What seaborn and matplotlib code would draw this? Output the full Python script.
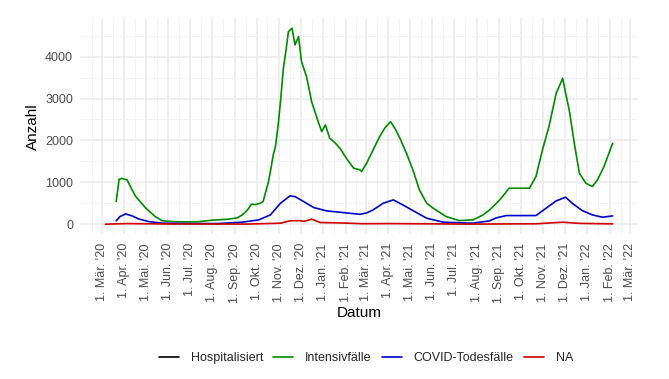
import matplotlib
import matplotlib.pyplot as plt
import matplotlib.dates as mdates
import pandas as pd
import seaborn as sns
from matplotlib.lines import Line2D

matplotlib.use("Agg")

# ── Data ──────────────────────────────────────────────────────────────────────

intensiv_dates = [
    "2020-03-21", "2020-03-25", "2020-03-29", "2020-04-05", "2020-04-11", "2020-04-17",
    "2020-05-01", "2020-05-14", "2020-05-24", "2020-06-10", "2020-06-25", "2020-07-12",
    "2020-07-31", "2020-08-23", "2020-09-04", "2020-09-11", "2020-09-18", "2020-09-24",
    "2020-09-30", "2020-10-06", "2020-10-10", "2020-10-15", "2020-10-17", "2020-10-21",
    "2020-10-24", "2020-10-27", "2020-10-31", "2020-11-03", "2020-11-07", "2020-11-11",
    "2020-11-14", "2020-11-19", "2020-11-23", "2020-11-28", "2020-12-02", "2020-12-09",
    "2020-12-16", "2020-12-25", "2020-12-30", "2021-01-04", "2021-01-10", "2021-01-17",
    "2021-01-24", "2021-02-02", "2021-02-12", "2021-02-21", "2021-02-23", "2021-03-02",
    "2021-03-11", "2021-03-20", "2021-03-27", "2021-04-04", "2021-04-10", "2021-04-17",
    "2021-04-26", "2021-05-05", "2021-05-14", "2021-05-24", "2021-06-02", "2021-06-20",
    "2021-07-08", "2021-07-27", "2021-08-10", "2021-08-19", "2021-09-02", "2021-09-15",
    "2021-09-29", "2021-10-13", "2021-10-22", "2021-10-31", "2021-11-09", "2021-11-19",
    "2021-11-23", "2021-11-28", "2021-12-02", "2021-12-07", "2021-12-14", "2021-12-21",
    "2021-12-30", "2022-01-08", "2022-01-15", "2022-01-24", "2022-02-05",
]
intensiv_values = [
    540, 1074, 1090, 1057, 850, 660,
    380, 180, 80, 60, 55, 58,
    95, 120, 150, 220, 330, 477,
    470, 500, 540, 860, 985, 1350,
    1654, 1850, 2400, 2926, 3723, 4200,
    4597, 4678, 4279, 4477, 3880, 3523,
    2926, 2449, 2210, 2370, 2053, 1950,
    1814, 1575, 1337, 1296, 1255, 1456,
    1773, 2091, 2291, 2449, 2291, 2053,
    1694, 1296, 819, 501, 382, 181,
    86, 103, 222, 341, 580, 859,
    859, 859, 1136, 1773, 2331, 3126,
    3284, 3484, 3126, 2728, 1932, 1217,
    978, 898, 1057, 1375, 1932,
]

tote_dates = [
    "2020-03-21", "2020-03-26", "2020-04-03", "2020-04-12", "2020-04-21", "2020-05-05",
    "2020-05-24", "2020-06-28", "2020-08-08", "2020-09-11", "2020-10-04", "2020-10-20",
    "2020-11-03", "2020-11-16", "2020-11-23", "2020-12-05", "2020-12-19", "2021-01-06",
    "2021-01-24", "2021-02-21", "2021-03-02", "2021-03-11", "2021-03-25", "2021-04-08",
    "2021-04-21", "2021-05-05", "2021-05-24", "2021-06-16", "2021-07-27", "2021-08-19",
    "2021-08-28", "2021-09-11", "2021-09-29", "2021-10-22", "2021-11-05", "2021-11-19",
    "2021-12-02", "2021-12-11", "2021-12-25", "2022-01-08", "2022-01-22", "2022-02-05",
]
tote_values = [
    80, 180, 245, 198, 126, 62,
    24, 15, 15, 48, 103, 222,
    501, 675, 659, 540, 397, 317,
    286, 235, 270, 341, 501, 580,
    461, 325, 143, 48, 24, 80,
    150, 206, 206, 206, 382, 556,
    644, 501, 325, 222, 167, 198,
]

na_dates = [
    "2020-03-06", "2020-04-05", "2020-05-30", "2020-09-17", "2020-11-03", "2020-11-16",
    "2020-11-28", "2020-12-06", "2020-12-16", "2020-12-28", "2021-01-25", "2021-02-25",
    "2021-04-05", "2021-07-20", "2021-10-22", "2021-11-28", "2021-12-21", "2022-02-05",
]
na_values = [
    0, 15, 5, 3, 24, 80,
    86, 70, 120, 40, 30, 12,
    15, 2, 10, 48, 20, 8,
]

series_names = ["Hospitalisiert", "Intensivfälle", "COVID-Todesfälle", "NA"]
series_colors = ["#000000", "#008B00", "#0000CD", "#CD0000"]

x_tick_labels = [
    "1. Mär. '20", "1. Apr. '20", "1. Mai. '20", "1. Jun. '20", "1. Jul. '20",
    "1. Aug. '20", "1. Sep. '20", "1. Okt. '20", "1. Nov. '20", "1. Dez. '20",
    "1. Jan. '21", "1. Feb. '21", "1. Mär. '21", "1. Apr. '21", "1. Mai. '21",
    "1. Jun. '21", "1. Jul. '21", "1. Aug. '21", "1. Sep. '21", "1. Okt. '21",
    "1. Nov. '21", "1. Dez. '21", "1. Jan. '22", "1. Feb. '22", "1. Mär. '22",
]
y_ticks = [0, 1000, 2000, 3000, 4000]

# ── Build long table ──────────────────────────────────────────────────────────

frames = [
    pd.DataFrame({"Datum": pd.to_datetime(intensiv_dates), "Anzahl": intensiv_values,
                  "Serie": "Intensivfälle"}),
    pd.DataFrame({"Datum": pd.to_datetime(tote_dates), "Anzahl": tote_values,
                  "Serie": "COVID-Todesfälle"}),
    pd.DataFrame({"Datum": pd.to_datetime(na_dates), "Anzahl": na_values, "Serie": "NA"}),
]
df = pd.concat(frames, ignore_index=True)

# ── Plot ──────────────────────────────────────────────────────────────────────

sns.set_theme(style="white")
plt.rcParams["font.family"] = ["Liberation Sans", "DejaVu Sans"]

fig = plt.figure(figsize=(6.69, 3.79), dpi=100)
ax = fig.add_axes([80 / 669, 1 - 234 / 379, 558 / 669, (234 - 18.4) / 379])

palette = dict(zip(series_names, series_colors))
sns.lineplot(
    data=df, x="Datum", y="Anzahl", hue="Serie", palette=palette,
    hue_order=series_names[1:], estimator=None, linewidth=1.2, legend=False, ax=ax,
)

# ggplot-like 5% expansion
xmin, xmax = df["Datum"].min(), df["Datum"].max()
xpad = (xmax - xmin) * 0.05
ax.set_xlim(xmin - xpad, xmax + xpad)
ymax = df["Anzahl"].max()
ax.set_ylim(-ymax * 0.05, ymax * 1.05)

month_ticks = pd.date_range("2020-03-01", periods=len(x_tick_labels), freq="MS")
ax.set_xticks(month_ticks)
ax.set_xticklabels(x_tick_labels, rotation=90, ha="center", va="top",
                   fontsize=9, color="#4D4D4D")
ax.xaxis.set_minor_locator(mdates.MonthLocator(bymonthday=16))
ax.set_yticks(y_ticks)
ax.set_yticklabels([str(v) for v in y_ticks], fontsize=9, color="#4D4D4D")
ax.set_yticks([v + 500 for v in y_ticks], minor=True)

ax.grid(which="major", color="#EBEBEB", linewidth=1.1)
ax.grid(which="minor", color="#F2F2F2", linewidth=0.6)
ax.set_axisbelow(True)
for side in ax.spines.values():
    side.set_visible(False)
ax.tick_params(axis="x", which="both", length=0, pad=6.5)
ax.tick_params(axis="y", which="both", length=0, pad=5)

ax.set_xlabel("Datum", fontsize=11, color="black", va="top")
ax.xaxis.set_label_coords(0.5, (234 - 306) / 215.6)
ax.set_ylabel("Anzahl", fontsize=11, color="black", labelpad=4)

handles = [Line2D([], [], color=c, linewidth=1.2) for c in series_colors]
fig.legend(handles, series_names, loc="center", bbox_to_anchor=(366 / 669, 1 - 358 / 379),
           ncol=4, frameon=False, fontsize=9, handlelength=1.6, handletextpad=0.95,
           columnspacing=0.8)

fig.savefig("out.png", dpi=100, facecolor="white")
plt.close(fig)
